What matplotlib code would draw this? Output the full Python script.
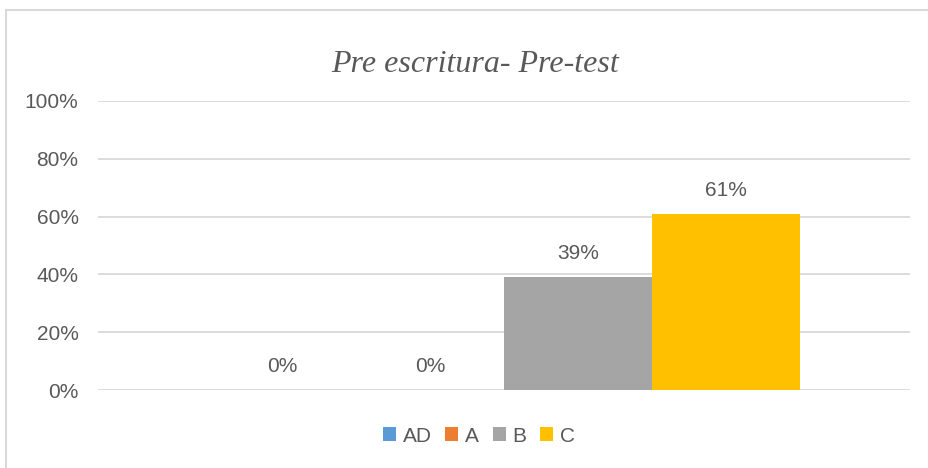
import matplotlib.pyplot as plt
from matplotlib.lines import Line2D
from matplotlib.ticker import PercentFormatter

# data
levels = ['AD', 'A', 'B', 'C']
values = [0.00, 0.00, 0.39, 0.61]
labels = ['0%', '0%', '39%', '61%']
colors = ['#5B9BD5', '#ED7D31', '#A5A5A5', '#FFC000']
title = 'Pre escritura- Pre-test'

txt = '#595959'
grid = '#D9D9D9'
sans = ['Liberation Sans', 'DejaVu Sans']

fig = plt.figure(figsize=(9.29, 4.68), dpi=100)
ax = fig.add_axes([98/929, 1-390/468, (910-98)/929, (390-101)/468])

w = 148/812
for i, (lev, v, lab, c) in enumerate(zip(levels, values, labels, colors)):
    x = (i - 1.5) * w
    ax.bar(x, v, width=w, color=c, label=lev, zorder=3)
    ax.annotate(lab, (x, v), xytext=(0, 17), textcoords='offset points',
                ha='center', va='center', fontsize=15, color=txt, family=sans)

ax.set_xlim(-0.5, 0.5)
ax.set_ylim(0, 1)
ax.set_yticks([0, 0.2, 0.4, 0.6, 0.8, 1.0])
ax.yaxis.set_major_formatter(PercentFormatter(1.0, decimals=0))
ax.set_xticks([])
ax.grid(axis='y', color=grid, linewidth=1.3, zorder=0)
for s in ax.spines.values():
    s.set_visible(False)
ax.tick_params(axis='y', length=0, pad=14, labelsize=15, labelcolor=txt)
for t in ax.get_yticklabels():
    t.set_family(sans)

fig.text(475/929, 1-64/468, title, ha='center', va='center', fontsize=23,
         style='italic', family='Liberation Serif', color=txt)

leg = fig.legend(loc='center', bbox_to_anchor=(479/929, 1-436/468), ncol=4,
                 frameon=False, handlelength=0.62, handleheight=0.62,
                 handletextpad=0.33, columnspacing=0.65,
                 prop={'family': sans, 'size': 15})
for t in leg.get_texts():
    t.set_color(txt)

# chart area border (left and top visible)
fig.add_artist(Line2D([6/929, 6/929], [0, 1-10/468], color=grid, lw=1.5,
                      transform=fig.transFigure))
fig.add_artist(Line2D([6/929, 1], [1-10/468, 1-10/468], color=grid, lw=1.5,
                      transform=fig.transFigure))

fig.savefig('out.png', dpi=100)
